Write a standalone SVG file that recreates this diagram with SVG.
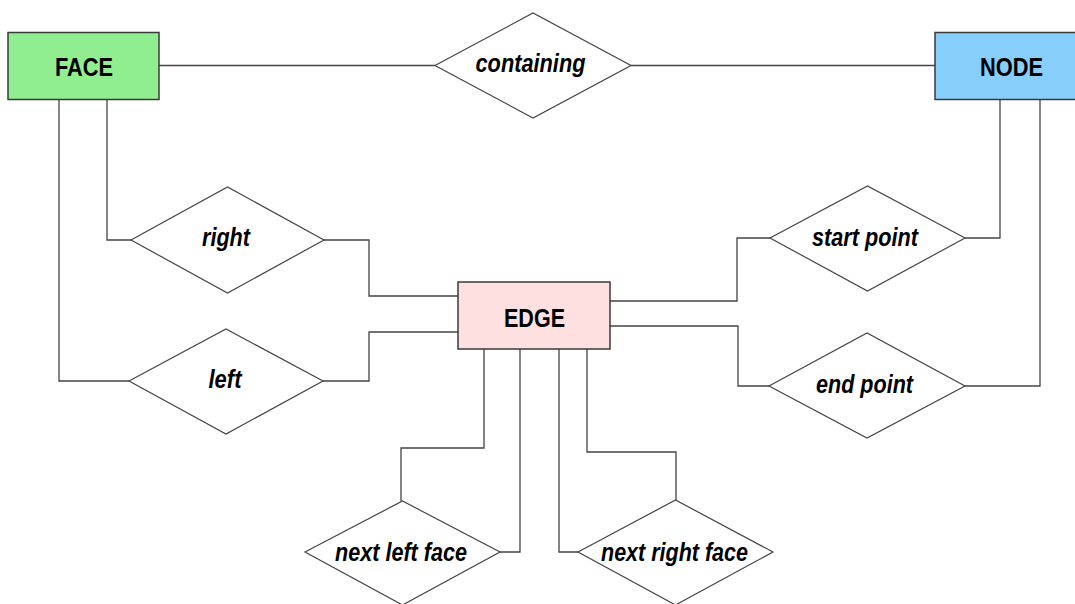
<svg xmlns="http://www.w3.org/2000/svg" width="1075" height="604" viewBox="0 0 1075 604">
<style>
.ent{stroke:#3a3a3a;stroke-width:1.5}
.rel{fill:#fff;stroke:#444;stroke-width:1.2}
.conn{fill:none;stroke:#444;stroke-width:1.3}
.et{font-family:"Liberation Sans",Arial,sans-serif;font-weight:bold;font-size:26px;fill:#000}
.rt{font-family:"Liberation Sans",Arial,sans-serif;font-weight:bold;font-style:italic;font-size:26px;fill:#000}
</style>
<rect width="1075" height="604" fill="#fff"/>
<g id="connectors">
<path class="conn" d="M159,65.5 H435"/>
<path class="conn" d="M631,65.5 H935"/>
<path class="conn" d="M107,100 V240 H131"/>
<path class="conn" d="M59,100 V381 H129"/>
<path class="conn" d="M324,240 H369 V296 H458"/>
<path class="conn" d="M323,381 H369 V332 H458"/>
<path class="conn" d="M1000,100 V238 H965"/>
<path class="conn" d="M770,238 H737 V301 H610"/>
<path class="conn" d="M1040,100 V386 H965"/>
<path class="conn" d="M769,386 H738 V326 H610"/>
<path class="conn" d="M484,349 V448 H401 V501"/>
<path class="conn" d="M520,349 V552 H500"/>
<path class="conn" d="M559,349 V552 H578"/>
<path class="conn" d="M587,349 V452 H676 V500"/>
</g>
<g id="face">
<rect class="ent" x="8" y="32.5" width="151" height="67" fill="#90ee90"/>
<text class="et" x="84" y="76" text-anchor="middle" textLength="58" lengthAdjust="spacingAndGlyphs">FACE</text>
</g>
<g id="node">
<rect class="ent" x="935" y="32.5" width="145" height="67" fill="#87cefa"/>
<text class="et" x="1011.5" y="76" text-anchor="middle" textLength="63" lengthAdjust="spacingAndGlyphs">NODE</text>
</g>
<g id="edge">
<rect class="ent" x="458" y="282" width="152" height="67" fill="#ffe0e0"/>
<text class="et" x="534.5" y="327" text-anchor="middle" textLength="61" lengthAdjust="spacingAndGlyphs">EDGE</text>
</g>
<g id="containing">
<polygon class="rel" points="435,65.5 533,13 631,65.5 533,118"/>
<text class="rt" x="530.5" y="72" text-anchor="middle" textLength="110" lengthAdjust="spacingAndGlyphs">containing</text>
</g>
<g id="right">
<polygon class="rel" points="131,240 227.5,187 324,240 227.5,293"/>
<text class="rt" x="226" y="246" text-anchor="middle" textLength="48" lengthAdjust="spacingAndGlyphs">right</text>
</g>
<g id="left">
<polygon class="rel" points="129,381 226,329 323,381 226,434"/>
<text class="rt" x="225" y="388" text-anchor="middle" textLength="33" lengthAdjust="spacingAndGlyphs">left</text>
</g>
<g id="start-point">
<polygon class="rel" points="770,238 867.5,186 965,238 867.5,291"/>
<text class="rt" x="865" y="246" text-anchor="middle" textLength="106" lengthAdjust="spacingAndGlyphs">start point</text>
</g>
<g id="end-point">
<polygon class="rel" points="769,386 867,333 965,386 867,438"/>
<text class="rt" x="864.5" y="392.5" text-anchor="middle" textLength="97" lengthAdjust="spacingAndGlyphs">end point</text>
</g>
<g id="next-left-face">
<polygon class="rel" points="305,552 402.5,501 500,552 402.5,605"/>
<text class="rt" x="401" y="561" text-anchor="middle" textLength="132" lengthAdjust="spacingAndGlyphs">next left face</text>
</g>
<g id="next-right-face">
<polygon class="rel" points="578,552 675.5,500 773,552 675.5,605"/>
<text class="rt" x="674.5" y="561" text-anchor="middle" textLength="147" lengthAdjust="spacingAndGlyphs">next right face</text>
</g>
</svg>
